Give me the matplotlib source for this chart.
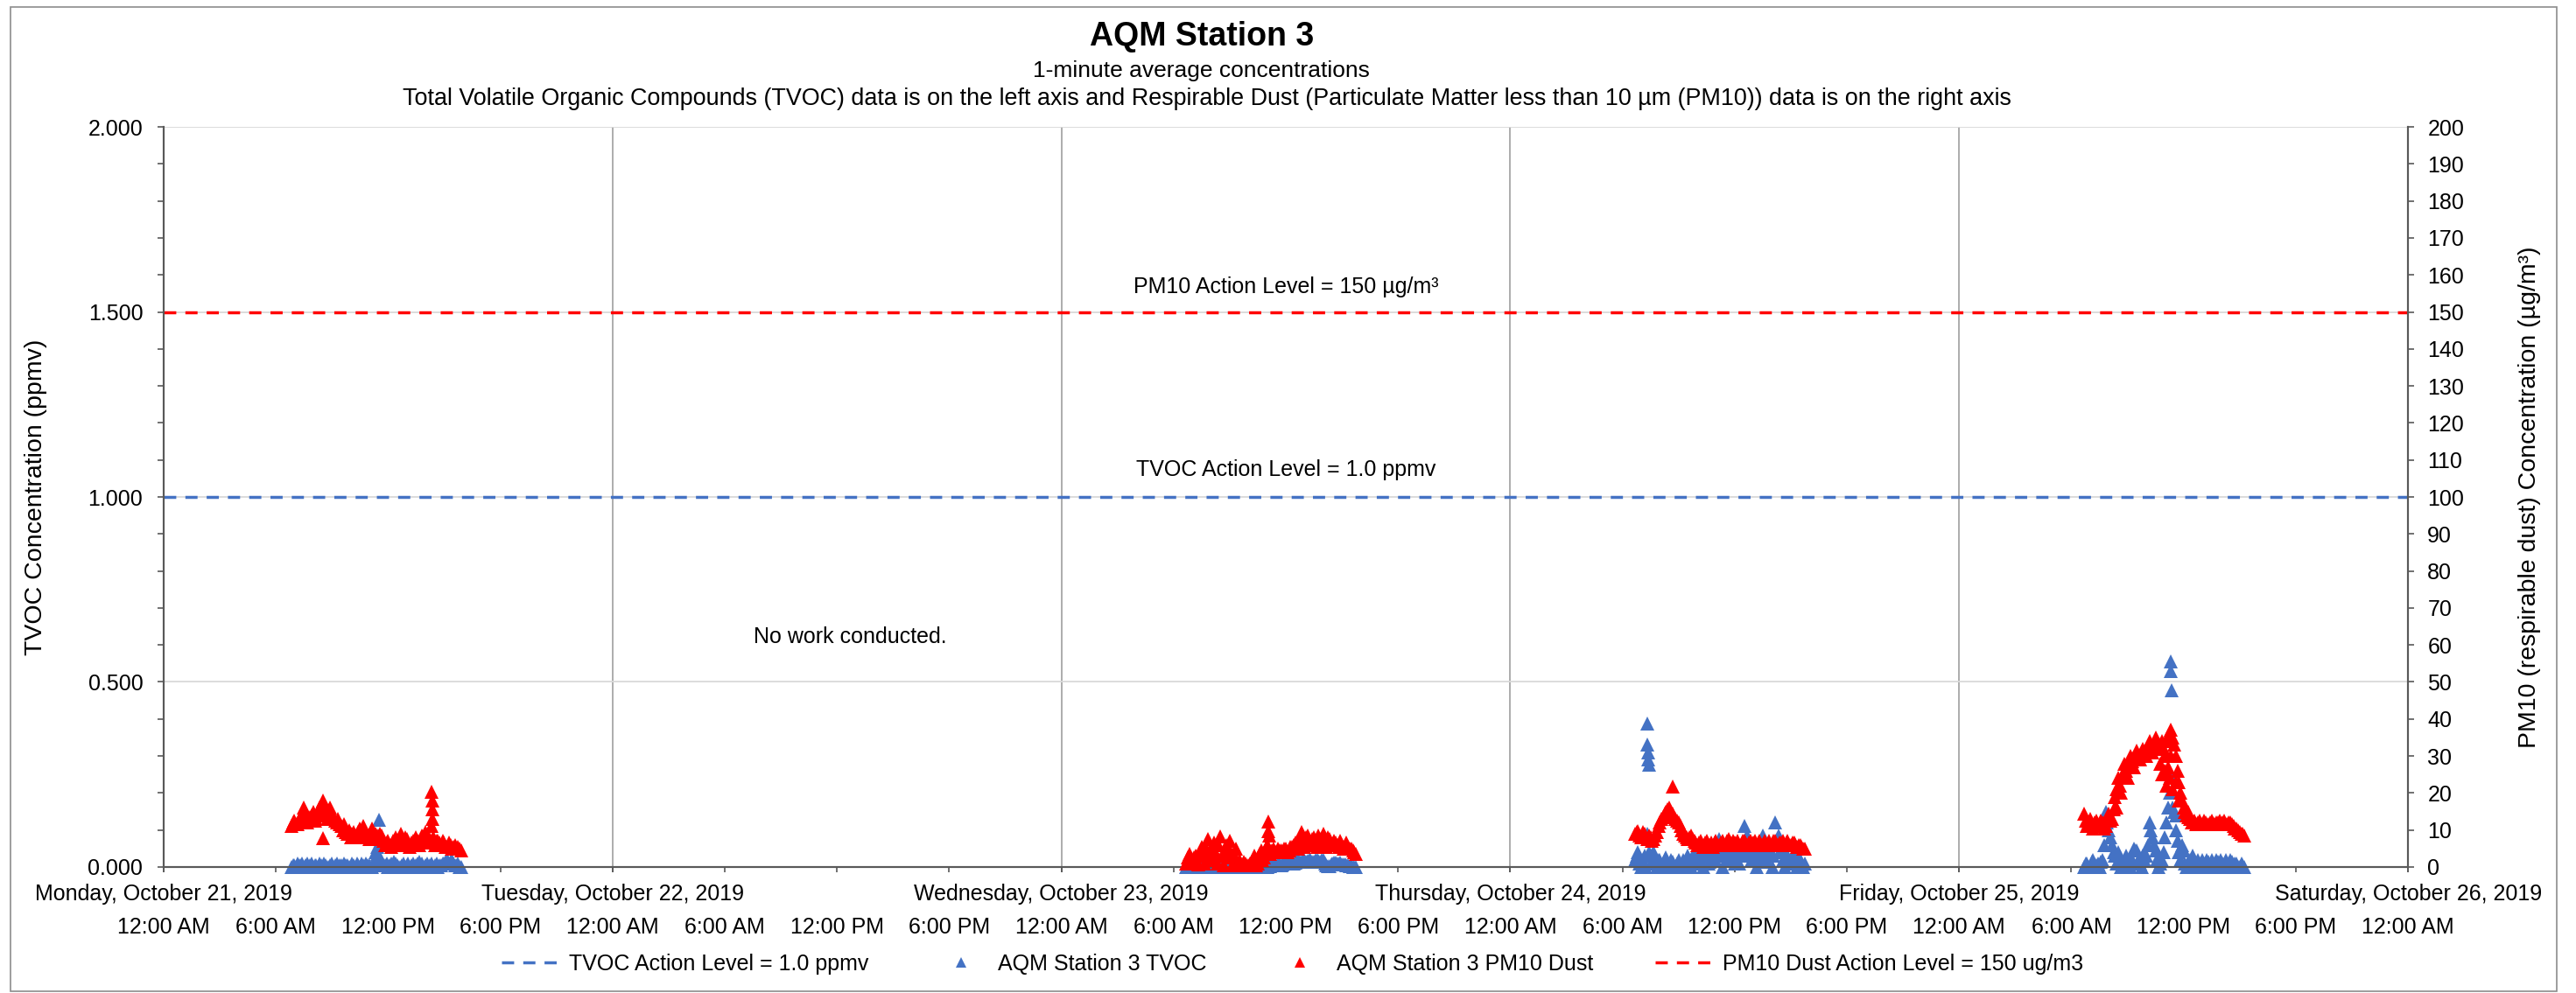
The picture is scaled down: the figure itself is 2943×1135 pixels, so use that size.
"""AQM Station 3 - TVOC and PM10 one-minute concentrations, Oct 21-26 2019."""

import matplotlib

matplotlib.use("Agg")
import matplotlib.dates as mdates
import matplotlib.pyplot as plt
import numpy as np
import pandas as pd
from matplotlib.lines import Line2D
from matplotlib.patches import Rectangle

plt.rcParams["font.family"] = ["Liberation Sans", "DejaVu Sans"]

# ---- data -------------------------------------------------------------------
# readings every 10 minutes from these starts ("_a"), plus the readings that
# fall 5 minutes later ("_b")
day_starts = ["2019-10-21 06:50", "2019-10-23 06:40", "2019-10-24 06:40", "2019-10-25 06:40"]

tvoc_oct21_a = [0.000, 0.005, 0.010, 0.005, 0.000, 0.010, 0.005, 0.000, 0.005, 0.010,
                0.000, 0.005, 0.000, 0.010, 0.005, 0.000, 0.005, 0.010, 0.005, 0.000,
                0.005, 0.010, 0.000, 0.005, 0.010, 0.005, 0.000, 0.040, 0.030, 0.010,
                0.005, 0.000, 0.010, 0.015, 0.005, 0.000, 0.010, 0.005, 0.000, 0.010,
                0.005, 0.015, 0.010, 0.005, 0.000, 0.010, 0.005, 0.000, 0.005, 0.010,
                0.020, 0.015, 0.010, 0.005, 0.000]
tvoc_oct21_b = [0.005, 0.000, 0.005, 0.010, 0.005, 0.000, 0.010, 0.005, 0.000, 0.005,
                0.010, 0.000, 0.005, 0.000, 0.010, 0.005, 0.000, 0.005, 0.000, 0.010,
                0.000, 0.005, 0.010, 0.000, 0.005, 0.000, 0.010, 0.035, 0.020, 0.005,
                0.010, 0.005, 0.000, 0.010, 0.000, 0.005, 0.000, 0.010, 0.005, 0.000,
                0.010, 0.005, 0.000, 0.010, 0.005, 0.000, 0.010, 0.005, 0.010, 0.015,
                0.010, 0.020, 0.005, 0.010, 0.000]
tvoc_oct23_a = [0.000, 0.005, 0.000, 0.005, 0.010, 0.000, 0.005, 0.000, 0.005, 0.000,
                0.005, 0.000, 0.010, 0.005, 0.000, 0.005, 0.000, 0.005, 0.000, 0.005,
                0.000, 0.005, 0.000, 0.005, 0.000, 0.005, 0.000, 0.003, 0.006, 0.004,
                0.008, 0.006, 0.010, 0.012, 0.015, 0.012, 0.018, 0.015, 0.020, 0.016,
                0.020, 0.014, 0.018, 0.015, 0.019, 0.004, 0.003, 0.010, 0.012, 0.010,
                0.008, 0.006, 0.004, 0.002, 0.000]
tvoc_oct23_b = [0.005, 0.000, 0.005, 0.000, 0.005, 0.005, 0.000, 0.005, 0.000, 0.005,
                0.000, 0.005, 0.000, 0.005, 0.000, 0.005, 0.000, 0.000, 0.005, 0.000,
                0.005, 0.000, 0.005, 0.000, 0.005, 0.000, 0.004, 0.005, 0.004, 0.007,
                0.005, 0.009, 0.011, 0.013, 0.010, 0.016, 0.013, 0.019, 0.014, 0.018,
                0.015, 0.019, 0.016, 0.020, 0.010, 0.002, 0.006, 0.011, 0.009, 0.012,
                0.007, 0.005, 0.003, 0.001, 0.000]
tvoc_oct24_a = [0.020, 0.040, 0.000, 0.030, 0.090, 0.010, 0.040, 0.000, 0.020, 0.005,
                0.025, 0.000, 0.015, 0.000, 0.020, 0.005, 0.015, 0.030, 0.000, 0.035,
                0.010, 0.040, 0.000, 0.030, 0.015, 0.040, 0.020, 0.075, 0.000, 0.050,
                0.020, 0.040, 0.010, 0.050, 0.030, 0.110, 0.085, 0.030, 0.050, 0.000,
                0.040, 0.085, 0.030, 0.050, 0.000, 0.120, 0.085, 0.040, 0.000, 0.030,
                0.010, 0.035, 0.000, 0.020, 0.000]
tvoc_oct24_b = [0.030, 0.010, 0.020, 0.000, 0.040, 0.030, 0.015, 0.020, 0.000, 0.020,
                0.010, 0.020, 0.005, 0.010, 0.000, 0.020, 0.005, 0.010, 0.030, 0.020,
                0.035, 0.015, 0.030, 0.010, 0.035, 0.020, 0.040, 0.030, 0.035, 0.020,
                0.040, 0.020, 0.035, 0.010, 0.060, 0.040, 0.040, 0.020, 0.030, 0.040,
                0.020, 0.045, 0.015, 0.040, 0.030, 0.060, 0.040, 0.020, 0.030, 0.015,
                0.030, 0.010, 0.025, 0.005, 0.010]
tvoc_oct25_a = [0.000, 0.010, 0.000, 0.020, 0.005, 0.000, 0.020, 0.150, 0.100, 0.060,
                0.030, 0.040, 0.000, 0.010, 0.020, 0.000, 0.050, 0.045, 0.010, 0.030,
                0.030, 0.120, 0.080, 0.045, 0.000, 0.020, 0.080, 0.160, 0.245, 0.150,
                0.070, 0.020, 0.045, 0.000, 0.020, 0.030, 0.000, 0.010, 0.020, 0.000,
                0.015, 0.020, 0.000, 0.015, 0.020, 0.000, 0.010, 0.020, 0.000, 0.010,
                0.000, 0.005]
tvoc_oct25_b = [0.010, 0.000, 0.015, 0.000, 0.010, 0.015, 0.060, 0.120, 0.080, 0.040,
                0.010, 0.020, 0.005, 0.030, 0.010, 0.020, 0.045, 0.020, 0.000, 0.020,
                0.060, 0.100, 0.060, 0.020, 0.010, 0.040, 0.120, 0.200, 0.160, 0.100,
                0.040, 0.060, 0.010, 0.015, 0.000, 0.010, 0.020, 0.000, 0.010, 0.020,
                0.000, 0.010, 0.020, 0.000, 0.010, 0.020, 0.000, 0.015, 0.010, 0.000,
                0.010, 0.000]

pm10_oct21_a = [11.0, 12.5, 11.5, 13.5, 16.0, 12.0, 13.5, 15.0, 13.0, 16.0,
                18.0, 14.0, 15.0, 14.5, 12.5, 13.0, 11.0, 11.5, 9.0, 8.0,
                9.5, 8.0, 10.5, 11.0, 8.0, 7.5, 10.5, 9.0, 7.5, 8.5,
                6.0, 7.0, 5.5, 6.5, 7.0, 9.0, 6.0, 7.5, 5.5, 7.0,
                8.0, 6.0, 8.5, 9.5, 6.5, 11.0, 6.0, 7.0, 6.0, 6.5,
                5.5, 6.0, 5.5, 5.0, 5.0]
pm10_oct21_b = [12.0, 11.5, 12.5, 14.5, 13.5, 13.0, 14.0, 12.5, 14.5, 15.5,
                15.5, 13.0, 16.0, 13.0, 12.0, 11.5, 10.0, 9.5, 10.0, 9.0,
                8.5, 9.5, 9.0, 9.5, 8.5, 9.0, 8.0, 8.5, 9.0, 7.0,
                6.5, 6.0, 7.0, 8.0, 6.0, 7.0, 8.0, 6.5, 6.5, 6.0,
                7.0, 7.5, 7.0, 8.0, 7.5, 8.0, 7.0, 6.5, 7.0, 5.5,
                6.5, 5.0, 6.0, 5.5, 4.5]
pm10_oct23_a = [1.0, 3.5, 1.0, 3.0, 0.8, 5.5, 1.0, 7.5, 2.0, 6.5,
                1.0, 8.3, 0.5, 6.0, 7.0, 0.5, 5.0, 2.0, 0.5, 1.0,
                0.5, 1.5, 3.0, 1.0, 4.5, 2.5, 6.0, 3.5, 5.0, 4.0,
                4.5, 4.0, 5.0, 4.5, 5.5, 6.5, 5.0, 9.5, 5.5, 8.5,
                6.0, 8.0, 5.5, 7.5, 9.0, 5.5, 7.5, 6.0, 6.5, 5.5,
                6.0, 5.5, 5.5, 5.0, 4.0]
pm10_oct23_b = [2.5, 2.0, 2.5, 1.5, 4.0, 3.0, 5.0, 4.0, 5.5, 3.5,
                6.0, 3.0, 4.5, 2.5, 3.5, 3.0, 1.0, 0.5, 1.5, 0.5,
                1.0, 2.0, 0.5, 3.5, 2.0, 5.0, 4.5, 4.5, 4.0, 5.0,
                4.5, 5.0, 4.0, 5.5, 6.0, 5.5, 7.5, 7.0, 8.0, 7.0,
                7.5, 6.5, 8.5, 6.0, 7.0, 8.0, 6.0, 7.0, 6.0, 7.0,
                5.0, 6.5, 5.0, 4.5, 3.5]
pm10_oct24_a = [9.0, 9.8, 8.0, 9.0, 7.5, 8.0, 7.5, 9.5, 12.0, 13.5,
                15.0, 16.0, 14.5, 13.0, 12.0, 10.0, 8.5, 7.5, 8.5, 7.0,
                6.0, 7.0, 5.5, 7.0, 6.0, 5.5, 7.0, 6.0, 7.0, 6.0,
                7.5, 6.0, 6.5, 7.0, 6.0, 7.0, 6.0, 7.0, 6.5, 6.0,
                7.0, 6.0, 6.5, 7.0, 6.0, 7.0, 6.0, 6.5, 6.0, 7.0,
                6.0, 6.5, 5.5, 6.0, 5.0]
pm10_oct24_b = [9.5, 8.5, 9.5, 8.0, 8.5, 7.0, 8.5, 11.0, 13.0, 14.5,
                15.5, 15.0, 13.5, 12.5, 11.0, 9.0, 8.0, 8.0, 7.5, 6.5,
                6.5, 6.0, 6.5, 6.0, 6.5, 6.5, 6.0, 6.5, 6.0, 7.0,
                6.5, 7.0, 6.0, 6.0, 7.0, 6.5, 6.5, 6.0, 7.0, 6.5,
                6.0, 7.0, 6.0, 6.0, 7.0, 6.0, 6.5, 7.0, 6.5, 6.0,
                6.5, 6.0, 6.0, 5.5, 5.0]
pm10_oct25_a = [14.5, 11.0, 13.0, 10.5, 12.5, 11.0, 12.0, 11.0, 14.5, 13.0,
                19.0, 24.0, 20.0, 28.0, 24.0, 30.0, 27.0, 31.5, 29.0, 32.0,
                30.0, 34.0, 31.0, 35.0, 32.0, 34.0, 30.0, 35.5, 37.0, 33.0,
                26.0, 20.0, 16.0, 14.0, 13.0, 12.0, 11.5, 12.5, 11.5, 12.0,
                11.5, 12.5, 11.5, 12.0, 11.5, 12.5, 11.5, 12.0, 11.0, 10.5,
                9.5, 9.0]
pm10_oct25_b = [12.5, 12.0, 11.5, 12.0, 11.0, 12.5, 10.5, 13.0, 12.5, 15.5,
                21.0, 22.0, 25.0, 26.0, 27.5, 28.5, 30.0, 29.5, 31.0, 30.5,
                32.5, 32.5, 33.5, 33.0, 33.0, 32.0, 34.0, 36.0, 35.0, 30.0,
                23.0, 18.0, 15.0, 13.5, 12.0, 12.5, 12.0, 11.5, 12.5, 11.5,
                12.0, 11.5, 12.0, 12.5, 12.0, 11.5, 12.0, 11.5, 10.5, 10.0,
                9.0, 8.5]

# readings that stand off the main band
tvoc_spike_times = ["2019-10-21 11:30", "2019-10-21 11:30", "2019-10-21 11:25",
                    "2019-10-24 07:20", "2019-10-24 07:20", "2019-10-24 07:22",
                    "2019-10-24 07:22", "2019-10-24 07:24",
                    "2019-10-25 11:20", "2019-10-25 11:20", "2019-10-25 11:21",
                    "2019-10-25 11:35"]
tvoc_spike_values = [0.128, 0.085, 0.055,
                     0.387, 0.330, 0.310, 0.290, 0.277,
                     0.556, 0.530, 0.478,
                     0.140]
pm10_spike_times = ["2019-10-21 14:20", "2019-10-21 14:21", "2019-10-21 14:22",
                    "2019-10-21 14:23", "2019-10-21 08:30",
                    "2019-10-23 11:05", "2019-10-23 11:05", "2019-10-23 11:06",
                    "2019-10-24 08:40",
                    "2019-10-25 08:25", "2019-10-25 10:45", "2019-10-25 10:50",
                    "2019-10-25 11:00", "2019-10-25 11:05", "2019-10-25 11:10",
                    "2019-10-25 11:15", "2019-10-25 11:20", "2019-10-25 11:25",
                    "2019-10-25 11:35", "2019-10-25 11:45", "2019-10-25 12:15"]
pm10_spike_values = [20.3, 18.0, 15.5, 13.0, 7.8,
                     12.3, 9.8, 8.5,
                     21.8,
                     16.0, 28.0, 25.0, 26.0, 22.0, 27.0, 24.0, 30.0, 21.0,
                     23.0, 18.0, 15.0]

tvoc_action_level = 1.0
pm10_action_level = 150

day_labels = ["Monday, October 21, 2019", "Tuesday, October 22, 2019",
              "Wednesday, October 23, 2019", "Thursday, October 24, 2019",
              "Friday, October 25, 2019", "Saturday, October 26, 2019"]
hour_labels = ["12:00 AM", "6:00 AM", "12:00 PM", "6:00 PM"]

legend_labels = ["TVOC Action Level = 1.0 ppmv", "AQM Station 3 TVOC",
                 "AQM Station 3 PM10 Dust", "PM10 Dust Action Level = 150 ug/m3"]

BLUE = "#4472C4"
RED = "#FF0000"


def build_series(first, second, spike_times, spike_values):
    times, vals = [], []
    for start, a, b in zip(day_starts, first, second):
        t0 = pd.Timestamp(start)
        times.append(pd.date_range(t0, periods=len(a), freq="10min").values)
        times.append(pd.date_range(t0 + pd.Timedelta("5min"), periods=len(b),
                                   freq="10min").values)
        vals += [np.asarray(a, dtype=float), np.asarray(b, dtype=float)]
    times.append(pd.to_datetime(spike_times).values)
    vals.append(np.asarray(spike_values, dtype=float))
    return np.concatenate(times), np.concatenate(vals)


tvoc_t, tvoc_v = build_series(
    [tvoc_oct21_a, tvoc_oct23_a, tvoc_oct24_a, tvoc_oct25_a],
    [tvoc_oct21_b, tvoc_oct23_b, tvoc_oct24_b, tvoc_oct25_b],
    tvoc_spike_times, tvoc_spike_values)
pm10_t, pm10_v = build_series(
    [pm10_oct21_a, pm10_oct23_a, pm10_oct24_a, pm10_oct25_a],
    [pm10_oct21_b, pm10_oct23_b, pm10_oct24_b, pm10_oct25_b],
    pm10_spike_times, pm10_spike_values)

# ---- figure -----------------------------------------------------------------
fig = plt.figure(figsize=(29.43, 11.35), dpi=100)
ax = fig.add_axes([0.0635, 0.1269, 0.8713, 0.7453])
ax2 = ax.twinx()

x0, x1 = pd.Timestamp("2019-10-21"), pd.Timestamp("2019-10-26")
ax.set_xlim(mdates.date2num(x0), mdates.date2num(x1))
ax.set_ylim(0, 2.0)
ax2.set_ylim(0, 200)

ax.plot(tvoc_t, tvoc_v, ls="none", marker="^", ms=11, mew=0, color=BLUE,
        clip_on=False, zorder=3)
ax.axhline(tvoc_action_level, color=BLUE, lw=2.5, dashes=(4, 3), zorder=2)
ax2.plot(pm10_t, pm10_v, ls="none", marker="^", ms=11, mew=0, color=RED,
         clip_on=False, zorder=3)
ax2.axhline(pm10_action_level, color=RED, lw=2.5, dashes=(4, 3), zorder=2)

# x axis: days on top row, 6-hour marks below
day_ticks = mdates.date2num(pd.date_range(x0, x1, freq="D").to_pydatetime())
hour_ticks = mdates.date2num(pd.date_range(x0, x1, freq="6h").to_pydatetime())
ax.set_xticks(day_ticks)
ax.set_xticklabels(day_labels)
ax.set_xticks(hour_ticks, minor=True)
ax.set_xticklabels(hour_labels * 5 + hour_labels[:1], minor=True)
ax.xaxis.remove_overlapping_locs = False
ax.tick_params(axis="x", which="both", direction="out", length=4, width=1.2,
               color="#595959", labelsize=18)
ax.tick_params(axis="x", which="major", pad=10)
ax.tick_params(axis="x", which="minor", pad=37)

ax.set_yticks(np.arange(0, 2.01, 0.5))
ax.set_yticks(np.arange(0, 2.01, 0.1), minor=True)
ax.yaxis.set_major_formatter(matplotlib.ticker.FormatStrFormatter("%.3f"))
ax.tick_params(axis="y", which="both", direction="out", length=5, width=1.2,
               color="#595959", labelsize=18, pad=12)
ax2.set_yticks(np.arange(0, 201, 10))
ax2.tick_params(axis="y", direction="out", length=5, width=1.2, color="#595959",
                labelsize=18, pad=11)

ax.grid(axis="x", which="major", color="#A6A6A6", lw=1.3)
ax.grid(axis="y", which="major", color="#D9D9D9", lw=1.3)
for a in (ax, ax2):
    a.spines["top"].set_visible(False)
    for side in ("left", "right", "bottom"):
        a.spines[side].set_color("#595959")
        a.spines[side].set_linewidth(1.5)

ax.set_ylabel("TVOC Concentration (ppmv)", fontsize=20.5)
ax.yaxis.set_label_coords(-0.0518, 0.5)
ax2.set_ylabel("PM10 (respirable dust) Concentration (µg/m³)", fontsize=20.5)
ax2.yaxis.set_label_coords(1.0490, 0.5)

ax.text(0.5, 0.784, "PM10 Action Level = 150 µg/m³", transform=ax.transAxes,
        ha="center", va="center", fontsize=18)
ax.text(0.5, 0.537, "TVOC Action Level = 1.0 ppmv", transform=ax.transAxes,
        ha="center", va="center", fontsize=18)
ax.text(0.306, 0.311, "No work conducted.", transform=ax.transAxes,
        ha="center", va="center", fontsize=18)

fig.text(0.4665, 0.9542, "AQM Station 3", ha="center", va="baseline",
         fontsize=27, fontweight="bold")
fig.text(0.4665, 0.9225, "1-minute average concentrations", ha="center",
         va="baseline", fontsize=19)
fig.text(0.4685, 0.8943,
         "Total Volatile Organic Compounds (TVOC) data is on the left axis and "
         "Respirable Dust (Particulate Matter less than 10 µm (PM10)) data is on the right axis",
         ha="center", va="baseline", fontsize=19.4)

handles = [
    Line2D([], [], color=BLUE, lw=2.5, dashes=(4, 3)),
    Line2D([], [], color=BLUE, ls="none", marker="^", ms=8, mew=0),
    Line2D([], [], color=RED, ls="none", marker="^", ms=8, mew=0),
    Line2D([], [], color=RED, lw=2.5, dashes=(4, 3)),
]
fig.legend(handles, legend_labels, loc="center", bbox_to_anchor=(0.5017, 0.029),
           ncol=4, frameon=False, fontsize=18, handlelength=2.8,
           handletextpad=0.28, columnspacing=2.84)

fig.add_artist(Rectangle((0.0041, 0.002), 0.9884, 0.991, transform=fig.transFigure,
                         fill=False, ec="#8C8C8C", lw=1.2))

fig.savefig("out.png", dpi=100)
